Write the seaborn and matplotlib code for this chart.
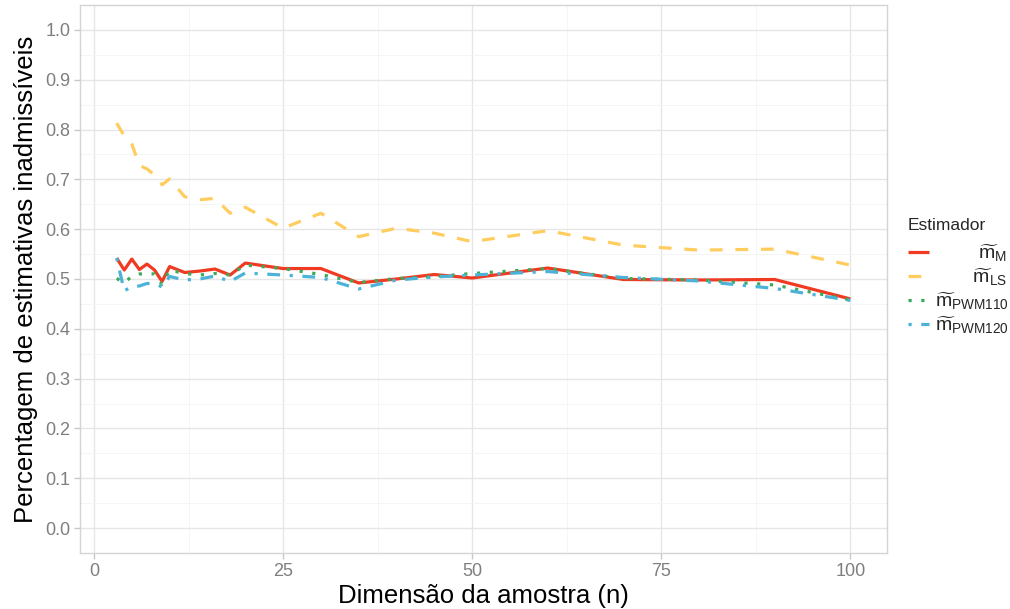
import numpy as np
import pandas as pd
import matplotlib
matplotlib.use("Agg")
import matplotlib.pyplot as plt
from matplotlib.ticker import MultipleLocator
import seaborn as sns

# Sample sizes and proportion of inadmissible estimates per estimator
n_values = [3, 4, 5, 6, 7, 8, 9, 10, 12, 14, 16, 18, 20, 25, 30, 35, 40, 45, 50, 60, 70, 80, 90, 100]
prop_m = [0.542, 0.518, 0.540, 0.519, 0.530, 0.518, 0.495, 0.525, 0.513, 0.516, 0.520, 0.508,
          0.532, 0.521, 0.521, 0.492, 0.500, 0.509, 0.502, 0.522, 0.499, 0.498, 0.499, 0.460]
prop_ls = [0.813, 0.787, 0.771, 0.728, 0.721, 0.709, 0.689, 0.701, 0.665, 0.659, 0.662, 0.632,
           0.644, 0.602, 0.632, 0.585, 0.602, 0.592, 0.575, 0.597, 0.568, 0.558, 0.560, 0.528]
prop_pwm110 = [0.501, 0.493, 0.505, 0.510, 0.511, 0.510, 0.489, 0.518, 0.511, 0.508, 0.511, 0.508,
               0.528, 0.521, 0.509, 0.493, 0.501, 0.505, 0.511, 0.521, 0.501, 0.498, 0.488, 0.458]
prop_pwm120 = [0.542, 0.476, 0.485, 0.486, 0.491, 0.491, 0.484, 0.505, 0.498, 0.500, 0.506, 0.495,
               0.512, 0.508, 0.503, 0.480, 0.498, 0.504, 0.508, 0.515, 0.503, 0.496, 0.481, 0.457]

estimators = ["M", "LS", "PWM110", "PWM120"]
legend_labels = [r"        $\widetilde{\mathrm{m}}_{\mathrm{M}}$",
                 r"       $\widetilde{\mathrm{m}}_{\mathrm{LS}}$",
                 r"$\widetilde{\mathrm{m}}_{\mathrm{PWM110}}$",
                 r"$\widetilde{\mathrm{m}}_{\mathrm{PWM120}}$"]

df = pd.DataFrame({
    "n": n_values * 4,
    "prop": prop_m + prop_ls + prop_pwm110 + prop_pwm120,
    "est": np.repeat(estimators, len(n_values)),
})

palette = {"M": "#F03B22", "LS": "#FFCC5E", "PWM110": "#3BAA5A", "PWM120": "#4CB3D8"}
dashes = {"M": "", "LS": (4, 4), "PWM110": (1, 3), "PWM120": (1, 3, 4, 3)}

sns.set_theme(style="white")
plt.rcParams["font.family"] = ["Liberation Sans", "DejaVu Sans"]
plt.rcParams["mathtext.fontset"] = "custom"
plt.rcParams["mathtext.rm"] = "Liberation Sans"
plt.rcParams["mathtext.it"] = "Liberation Sans:italic"

fig = plt.figure(figsize=(10.10, 6.09), dpi=100)
ax = fig.add_axes([80 / 1010, 1 - 553 / 609, (887 - 80) / 1010, (553 - 5) / 609])

sns.lineplot(data=df, x="n", y="prop", hue="est", style="est", hue_order=estimators,
             style_order=estimators, palette=palette, dashes=dashes, linewidth=2.3,
             legend=False, ax=ax)
for ln in ax.lines:
    ln.set_solid_capstyle("butt")
    ln.set_dash_capstyle("butt")

ax.set_xlim(3 - 0.05 * 97, 100 + 0.05 * 97)
ax.set_ylim(-0.05, 1.05)
ax.xaxis.set_major_locator(MultipleLocator(25))
ax.xaxis.set_minor_locator(MultipleLocator(12.5))
ax.yaxis.set_major_locator(MultipleLocator(0.1))
ax.yaxis.set_minor_locator(MultipleLocator(0.05))
ax.set_yticklabels([f"{v:.1f}" for v in ax.get_yticks()])

ax.grid(True, which="major", color="#E6E6E6", linewidth=1.0)
ax.grid(True, which="minor", color="#F4F4F4", linewidth=0.6)
ax.set_axisbelow(True)
for sp in ax.spines.values():
    sp.set_visible(True)
    sp.set_color("#D4D4D4")
    sp.set_linewidth(1.0)

ax.tick_params(axis="both", which="major", direction="out", length=4, width=1.0,
               color="#C8C8C8", labelcolor="#7F7F7F", labelsize=13, pad=3,
               bottom=True, left=True)
ax.tick_params(axis="both", which="minor", length=0)

ax.set_xlabel("Dimensão da amostra (n)", fontsize=18.5, color="black", labelpad=3)
ax.set_ylabel("Percentagem de estimativas inadmissíveis", fontsize=18.5, color="black", labelpad=5)

leg = fig.legend(handles=list(ax.lines[:4]), labels=legend_labels, title="Estimador",
                 loc="upper left", bbox_to_anchor=(892 / 1010, 1 - 202 / 609),
                 frameon=False, fontsize=14, title_fontsize=12.5, handlelength=1.1,
                 handletextpad=0.3, labelspacing=0.13, alignment="left", borderpad=0.3)
# extra room between the legend title and its entries
leg._legend_box.sep = 7.0

fig.savefig("out.png", dpi=100)
